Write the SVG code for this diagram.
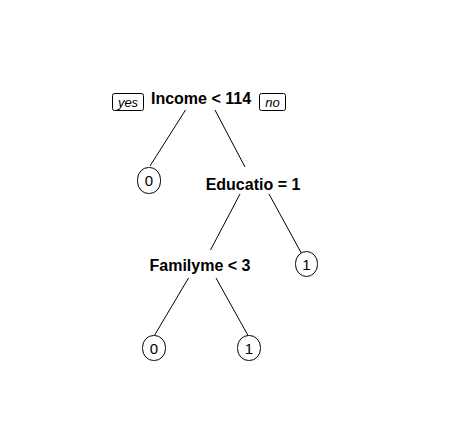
<svg xmlns="http://www.w3.org/2000/svg" width="455" height="447" viewBox="0 0 455 447">
<style>
.bg{fill:#ffffff}
.split{font-family:"Liberation Sans",Arial,sans-serif;font-weight:bold;font-size:16px;fill:#000;text-anchor:middle}
.leaf rect{fill:#fff;stroke:#000;stroke-width:1}
.leaf text{font-family:"Liberation Sans",Arial,sans-serif;font-size:15px;fill:#000;text-anchor:middle}
.tag rect{fill:#fff;stroke:#000;stroke-width:1}
.tag text{font-family:"Liberation Sans",Arial,sans-serif;font-style:italic;font-size:13px;fill:#000;text-anchor:middle}
#connectors line{stroke:#000;stroke-width:1}
</style>
<rect class="bg" x="0" y="0" width="455" height="447"/>
<g id="connectors">
<line x1="185.5" y1="110" x2="150" y2="166"/>
<line x1="215" y1="110" x2="245" y2="167"/>
<line x1="240" y1="194" x2="210.5" y2="250"/>
<line x1="269" y1="194" x2="304" y2="258"/>
<line x1="188.5" y1="278" x2="153.5" y2="337"/>
<line x1="216" y1="278" x2="250" y2="339"/>
</g>
<g id="node-income">
<text class="split" x="201" y="104">Income &lt; 114</text>
</g>
<g id="tag-yes" class="tag">
<rect x="112.5" y="93.5" width="31" height="17" rx="2"/>
<text x="128" y="106.5">yes</text>
</g>
<g id="tag-no" class="tag">
<rect x="259.5" y="93.5" width="26" height="17" rx="2"/>
<text x="272.5" y="106.5">no</text>
</g>
<g id="leaf-0a" class="leaf">
<rect x="137.5" y="167.5" width="23" height="26" rx="11" ry="12"/>
<text x="149" y="186">0</text>
</g>
<g id="node-educatio">
<text class="split" x="253" y="189.5">Educatio = 1</text>
</g>
<g id="leaf-1a" class="leaf">
<rect x="295.5" y="251.5" width="22" height="25" rx="11" ry="12"/>
<text x="306.5" y="269.5">1</text>
</g>
<g id="node-familyme">
<text class="split" x="200" y="271">Familyme &lt; 3</text>
</g>
<g id="leaf-0b" class="leaf">
<rect x="142.5" y="335.5" width="23" height="25" rx="11" ry="12"/>
<text x="154" y="353.5">0</text>
</g>
<g id="leaf-1b" class="leaf">
<rect x="237.5" y="335.5" width="23" height="25" rx="11" ry="12"/>
<text x="249" y="353.5">1</text>
</g>
</svg>
